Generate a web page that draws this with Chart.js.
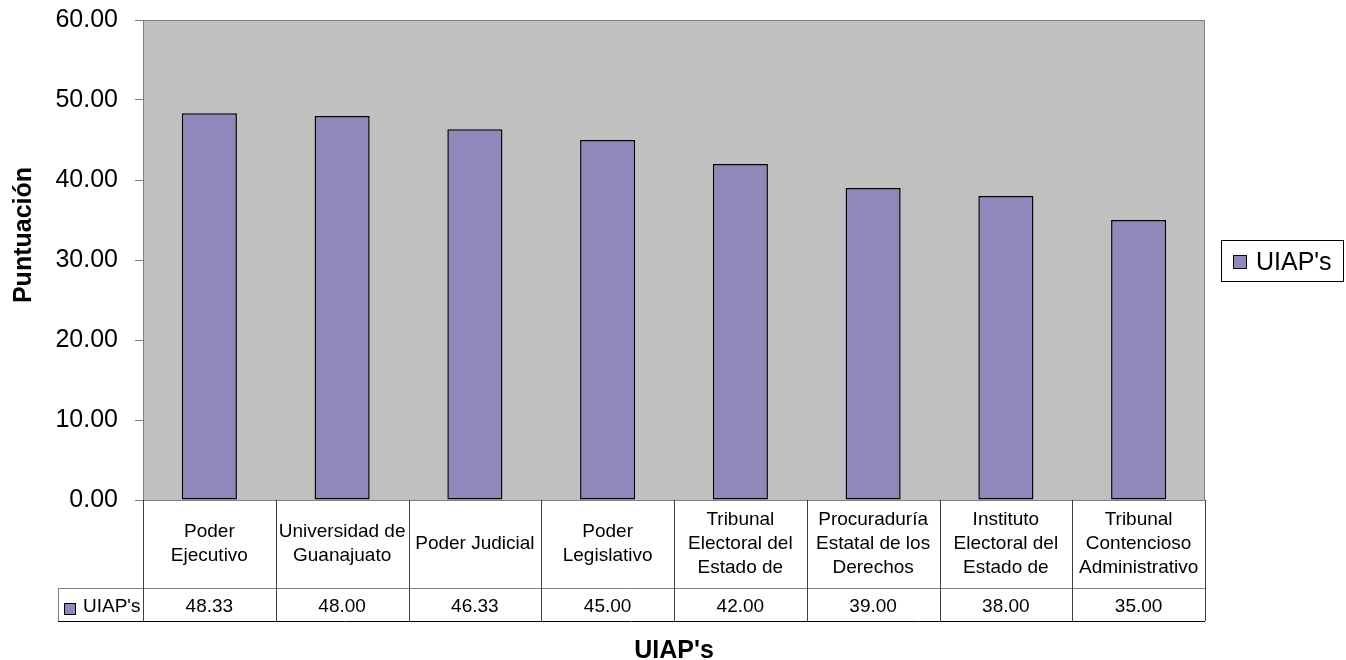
<!DOCTYPE html>
<html>
<head>
<meta charset="utf-8">
<script src="https://cdn.jsdelivr.net/npm/chart.js@4.4.1/dist/chart.umd.min.js"></script>
<style>
  body { margin: 0; background: #fff; }
</style>
</head>
<body>
<canvas id="myChart" width="1346" height="660"></canvas>
<script>
// data
const categories = [
    ['Poder', 'Ejecutivo'],
    ['Universidad de', 'Guanajuato'],
    ['Poder Judicial'],
    ['Poder', 'Legislativo'],
    ['Tribunal', 'Electoral del', 'Estado de'],
    ['Procuraduría', 'Estatal de los', 'Derechos'],
    ['Instituto', 'Electoral del', 'Estado de'],
    ['Tribunal', 'Contencioso', 'Administrativo']
];
const seriesName = "UIAP's";
const scores = [48.33, 48.00, 46.33, 45.00, 42.00, 39.00, 38.00, 35.00];
const yTicks = [0, 10, 20, 30, 40, 50, 60];
const yTitle = 'Puntuación';
const xTitle = "UIAP's";

const FONT = "'Liberation Sans', Arial, sans-serif";
const barColor = '#9088bb';

// gray plot area, data table under the axis, legend box, axis titles
const excelLook = {
    id: 'excelLook',
    beforeDraw(chart) {
        const { ctx, chartArea: a } = chart;
        ctx.save();
        ctx.fillStyle = '#c0c0c0';
        ctx.fillRect(a.left, a.top, a.right - a.left, a.bottom - a.top);
        ctx.strokeStyle = '#808080';
        ctx.lineWidth = 1;
        ctx.strokeRect(a.left + 0.5, a.top + 0.5, a.right - a.left - 1, a.bottom - a.top);
        ctx.restore();
    },
    afterDraw(chart) {
        const { ctx, chartArea: a } = chart;
        const x = chart.scales.x;
        const half = (x.getPixelForValue(1) - x.getPixelForValue(0)) / 2;
        const rowTop = a.bottom;
        const rowMid = a.bottom + 88;
        const rowEnd = a.bottom + 121;
        const legendCellLeft = 58;

        ctx.save();
        // table lines
        ctx.lineWidth = 1;
        ctx.strokeStyle = '#808080';
        ctx.beginPath();
        ctx.moveTo(legendCellLeft, rowMid + 0.5);
        ctx.lineTo(a.right, rowMid + 0.5);
        ctx.moveTo(legendCellLeft + 0.5, rowMid);
        ctx.lineTo(legendCellLeft + 0.5, rowEnd);
        ctx.stroke();

        ctx.strokeStyle = '#404040';
        ctx.beginPath();
        for (let i = 0; i <= categories.length; i++) {
            const px = Math.round(x.getPixelForValue(i) - half) + 0.5;
            ctx.moveTo(px, rowTop);
            ctx.lineTo(px, rowEnd);
        }
        ctx.stroke();

        ctx.strokeStyle = '#000';
        ctx.beginPath();
        ctx.moveTo(legendCellLeft, rowEnd + 0.5);
        ctx.lineTo(a.right, rowEnd + 0.5);
        ctx.stroke();

        // category labels and values
        ctx.fillStyle = '#000';
        ctx.font = '19px ' + FONT;
        ctx.textAlign = 'center';
        ctx.textBaseline = 'middle';
        const lineH = 24;
        categories.forEach(function (lines, i) {
            const cx = x.getPixelForValue(i);
            const cy = (rowTop + rowMid) / 2;
            const start = cy - (lines.length - 1) * lineH / 2;
            lines.forEach(function (t, k) {
                ctx.fillText(t, cx, start + k * lineH);
            });
            ctx.fillText(scores[i].toFixed(2), cx, (rowMid + rowEnd) / 2 + 2);
        });

        // legend key in the table
        ctx.fillStyle = barColor;
        ctx.fillRect(64, 603, 11, 11);
        ctx.strokeStyle = '#000';
        ctx.strokeRect(64.5, 603.5, 11, 11);
        ctx.fillStyle = '#000';
        ctx.textAlign = 'left';
        ctx.fillText(seriesName, 83, (rowMid + rowEnd) / 2 + 2);

        // right legend
        ctx.lineWidth = 1;
        ctx.strokeRect(1221.5, 240.5, 122, 41);
        ctx.fillStyle = barColor;
        ctx.fillRect(1233, 255, 13, 13);
        ctx.strokeRect(1233.5, 255.5, 13, 13);
        ctx.fillStyle = '#000';
        ctx.font = '25px ' + FONT;
        ctx.fillText(seriesName, 1256, 263);

        // axis titles
        ctx.font = 'bold 25px ' + FONT;
        ctx.textAlign = 'center';
        ctx.fillText(xTitle, 674, 651);
        ctx.translate(24, 235);
        ctx.rotate(-Math.PI / 2);
        ctx.fillText(yTitle, 0, 0);
        ctx.restore();
    }
};

const ctx = document.getElementById('myChart').getContext('2d');
const myChart = new Chart(ctx, {
    type: 'bar',
    data: {
        labels: categories,
        datasets: [{
            label: seriesName,
            data: scores,
            backgroundColor: barColor,
            borderColor: '#000',
            borderWidth: 1.5,
            borderSkipped: false,
            barPercentage: 0.415,
            categoryPercentage: 1
        }]
    },
    options: {
        responsive: false,
        animation: false,
        layout: {
            padding: { left: 0, right: 141, top: 20, bottom: 160 }
        },
        plugins: {
            legend: { display: false },
            tooltip: { enabled: false }
        },
        scales: {
            x: {
                display: false
            },
            y: {
                min: yTicks[0],
                max: yTicks[yTicks.length - 1],
                afterFit: function (scale) {
                    scale.width = 143;
                    scale.paddingTop = 0;
                    scale.paddingBottom = 0;
                },
                afterBuildTicks: function (scale) {
                    scale.ticks = yTicks.map(function (v) { return { value: v }; });
                },
                grid: {
                    drawOnChartArea: false,
                    drawTicks: true,
                    tickLength: 8,
                    color: '#808080'
                },
                border: { display: true, color: '#808080' },
                ticks: {
                    padding: 17,
                    color: '#000',
                    font: { family: FONT, size: 25 },
                    callback: function (v) { return Number(v).toFixed(2); }
                }
            }
        }
    },
    plugins: [excelLook]
});
</script>
</body>
</html>
